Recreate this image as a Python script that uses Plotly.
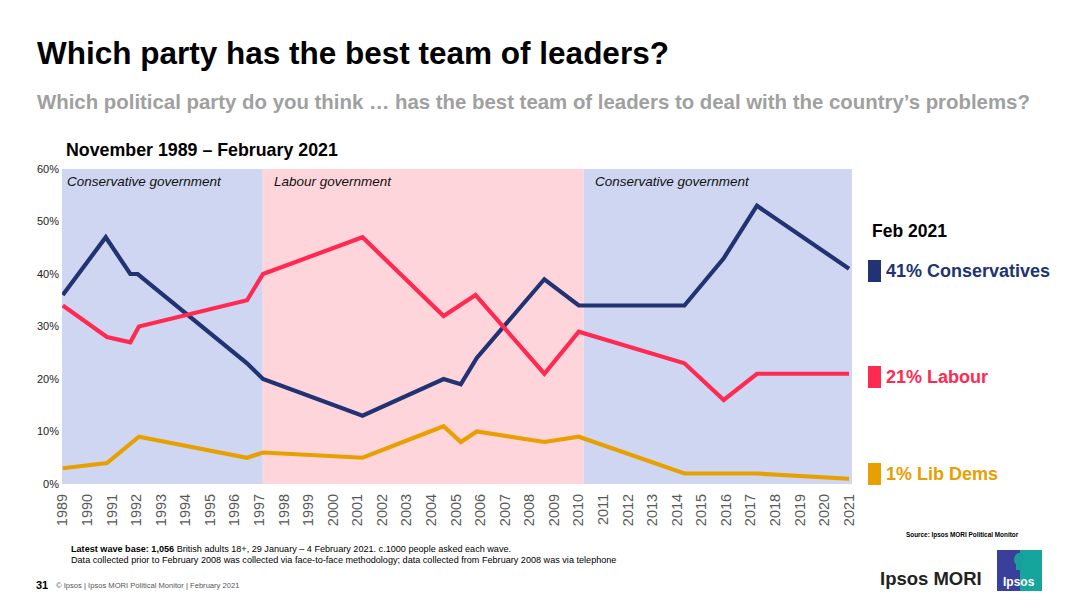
import plotly.graph_objects as go

# ---------------- data ----------------
years = list(range(1989, 2022))
tick_labels = [str(y) for y in years]
y_ticks = [0, 10, 20, 30, 40, 50, 60]

con_years = [1989.0, 1990.75, 1991.75, 1992.05, 1996.5, 1997.15, 2001.2, 2004.5, 2005.2, 2005.85, 2008.6, 2010.0, 2014.3, 2015.9, 2017.25, 2021.0]
con_vals = [36, 47, 40, 40, 23, 20, 13, 20, 19, 24, 39, 34, 34, 43, 53, 41]

lab_years = [1989.0, 1990.8, 1991.75, 1992.1, 1996.5, 1997.15, 2001.2, 2004.5, 2005.8, 2008.6, 2010.0, 2014.3, 2015.9, 2017.25, 2021.0]
lab_vals = [34, 28, 27, 30, 35, 40, 47, 32, 36, 21, 29, 23, 16, 21, 21]

ld_years = [1989.0, 1990.8, 1992.1, 1996.5, 1997.15, 2001.2, 2004.5, 2005.2, 2005.85, 2008.6, 2010.0, 2014.3, 2017.25, 2021.0]
ld_vals = [3, 4, 9, 5, 6, 5, 11, 8, 10, 8, 9, 2, 2, 1]

gov_labels = ["Conservative government", "Labour government", "Conservative government"]
gov_starts = [1988.97, 1997.14, 2010.2]
gov_ends = [1997.14, 2010.2, 2021.12]

latest_labels = ["41% Conservatives", "21% Labour", "1% Lib Dems"]

# ---------------- style ----------------
NAVY = "#213373"
RED = "#FF2A52"
ORANGE = "#E8A000"
BLUE_BG = "#CFD6F2"
PINK_BG = "#FFD5DC"
FONT = "Liberation Sans, Arial, sans-serif"

W, H = 1080, 610
OFF = 8  # page body margin
L, R, T, B = 62, 852, 169, 484  # plot area in reference pixels


def px(x):
    return (x - L) / (R - L)


def py(y):
    return (B - y) / (B - T)


fig = go.Figure()
for xs, ys, col, name in [(con_years, con_vals, NAVY, "Conservatives"),
                          (lab_years, lab_vals, RED, "Labour"),
                          (ld_years, ld_vals, ORANGE, "Lib Dems")]:
    fig.add_trace(go.Scatter(x=xs, y=ys, mode="lines", name=name,
                             line=dict(color=col, width=4.2), hoverinfo="skip"))

shapes = []
annotations = []
bg_cols = [BLUE_BG, PINK_BG, BLUE_BG]
label_pad = [0.12, 0.38, 0.38]
for s, e, lab, c, pd_ in zip(gov_starts, gov_ends, gov_labels, bg_cols, label_pad):
    shapes.append(dict(type="rect", xref="x", yref="y", x0=s, x1=e, y0=0, y1=60,
                       fillcolor=c, line=dict(width=0), layer="below"))
    annotations.append(dict(x=s + pd_, y=59.5, xref="x", yref="y", text="<i>" + lab + "</i>",
                            showarrow=False, xanchor="left", yanchor="top",
                            font=dict(family=FONT, size=13.5, color="#111")))

# titles
annotations.append(dict(x=px(35), y=py(53), xref="paper", yref="paper",
                        text="<b>Which party has the best team of leaders?</b>", showarrow=False,
                        xanchor="left", yanchor="middle", font=dict(family=FONT, size=31.5, color="#000")))
annotations.append(dict(x=px(35), y=py(102), xref="paper", yref="paper",
                        text="<b>Which political party do you think \u2026 has the best team of leaders to deal with the country\u2019s problems?</b>",
                        showarrow=False, xanchor="left", yanchor="middle",
                        font=dict(family=FONT, size=20.4, color="#a0a0a0")))
annotations.append(dict(x=px(64), y=py(150), xref="paper", yref="paper",
                        text="<b>November 1989 \u2013 February 2021</b>", showarrow=False,
                        xanchor="left", yanchor="middle", font=dict(family=FONT, size=17.8, color="#000")))

# right-hand latest values
annotations.append(dict(x=px(870), y=py(231), xref="paper", yref="paper",
                        text="<b>Feb 2021</b>", showarrow=False, xanchor="left", yanchor="middle",
                        font=dict(family=FONT, size=17.5, color="#000")))
for lab, col, yc in zip(latest_labels, [NAVY, RED, ORANGE], [271, 377, 474]):
    shapes.append(dict(type="rect", xref="paper", yref="paper", x0=px(868), x1=px(881),
                       y0=py(yc - 11), y1=py(yc + 11), fillcolor=col, line=dict(width=0)))
    annotations.append(dict(x=px(884), y=py(yc), xref="paper", yref="paper",
                            text="<b>" + lab + "</b>", showarrow=False, xanchor="left", yanchor="middle",
                            font=dict(family=FONT, size=18, color=col)))

# footer
annotations.append(dict(x=px(69), y=py(549), xref="paper", yref="paper",
                        text="<b>Latest wave base: 1,056</b> British adults 18+, 29 January \u2013 4 February 2021. c.1000 people asked each wave.",
                        showarrow=False, xanchor="left", yanchor="middle",
                        font=dict(family=FONT, size=9.1, color="#000")))
annotations.append(dict(x=px(69), y=py(560), xref="paper", yref="paper",
                        text="Data collected prior to February 2008 was collected via face-to-face methodology; data collected from February 2008 was via telephone",
                        showarrow=False, xanchor="left", yanchor="middle",
                        font=dict(family=FONT, size=9.1, color="#000")))
annotations.append(dict(x=px(34), y=py(585), xref="paper", yref="paper", text="<b>31</b>",
                        showarrow=False, xanchor="left", yanchor="middle",
                        font=dict(family=FONT, size=11, color="#000")))
annotations.append(dict(x=px(54), y=py(585), xref="paper", yref="paper",
                        text="\u00a9 Ipsos | Ipsos MORI Political Monitor | February 2021",
                        showarrow=False, xanchor="left", yanchor="middle",
                        font=dict(family=FONT, size=7.6, color="#555")))
annotations.append(dict(x=px(1021), y=py(535), xref="paper", yref="paper",
                        text="<b>Source: Ipsos MORI Political Monitor</b>",
                        showarrow=False, xanchor="right", yanchor="middle",
                        font=dict(family=FONT, size=6.4, color="#000")))
annotations.append(dict(x=px(878), y=py(578), xref="paper", yref="paper",
                        text="<b>Ipsos MORI</b>", showarrow=False, xanchor="left", yanchor="middle",
                        font=dict(family=FONT, size=18.5, color="#222")))

# Ipsos logo
shapes.append(dict(type="rect", xref="paper", yref="paper", x0=px(997), x1=px(1042),
                   y0=py(591), y1=py(550), fillcolor="#16A59C", line=dict(width=0)))
shapes.append(dict(type="rect", xref="paper", yref="paper", x0=px(997), x1=px(1020),
                   y0=py(591), y1=py(550), fillcolor="#3A3F9C", line=dict(width=0)))
shapes.append(dict(type="circle", xref="paper", yref="paper", x0=px(1014), x1=px(1025),
                   y0=py(566), y1=py(553), fillcolor="#17A09A", line=dict(width=0)))
shapes.append(dict(type="rect", xref="paper", yref="paper", x0=px(1016), x1=px(1023),
                   y0=py(570), y1=py(563), fillcolor="#17A09A", line=dict(width=0)))
annotations.append(dict(x=px(1019), y=py(582), xref="paper", yref="paper",
                        text="<b>Ipsos</b>", showarrow=False, xanchor="center", yanchor="middle",
                        font=dict(family=FONT, size=12, color="#fff")))

# slide border (right edge)
shapes.append(dict(type="rect", xref="paper", yref="paper", x0=px(1076), x1=px(1079),
                   y0=py(612), y1=py(-10), fillcolor="#c4c4c4", line=dict(width=0)))

fig.update_layout(
    width=W, height=H,
    margin=dict(l=L - OFF, r=W - (R - OFF), t=T - OFF, b=H - (B - OFF), pad=0),
    paper_bgcolor="white", plot_bgcolor="white",
    showlegend=False,
    shapes=shapes, annotations=annotations,
    xaxis=dict(range=[gov_starts[0], gov_ends[-1]], tickmode="array", tickvals=years,
               ticktext=tick_labels, tickangle=-90, showgrid=False, zeroline=False,
               showline=False, ticks="", ticklabelstandoff=6,
               tickfont=dict(family=FONT, size=14.5, color="#595959")),
    yaxis=dict(range=[0, 60], tickmode="array", tickvals=y_ticks,
               ticktext=[f"{v}%" for v in y_ticks], showgrid=False, zeroline=False,
               showline=False, ticks="", ticklabelstandoff=2,
               tickfont=dict(family=FONT, size=11, color="#222")),
)

fig.write_html("out.html")
